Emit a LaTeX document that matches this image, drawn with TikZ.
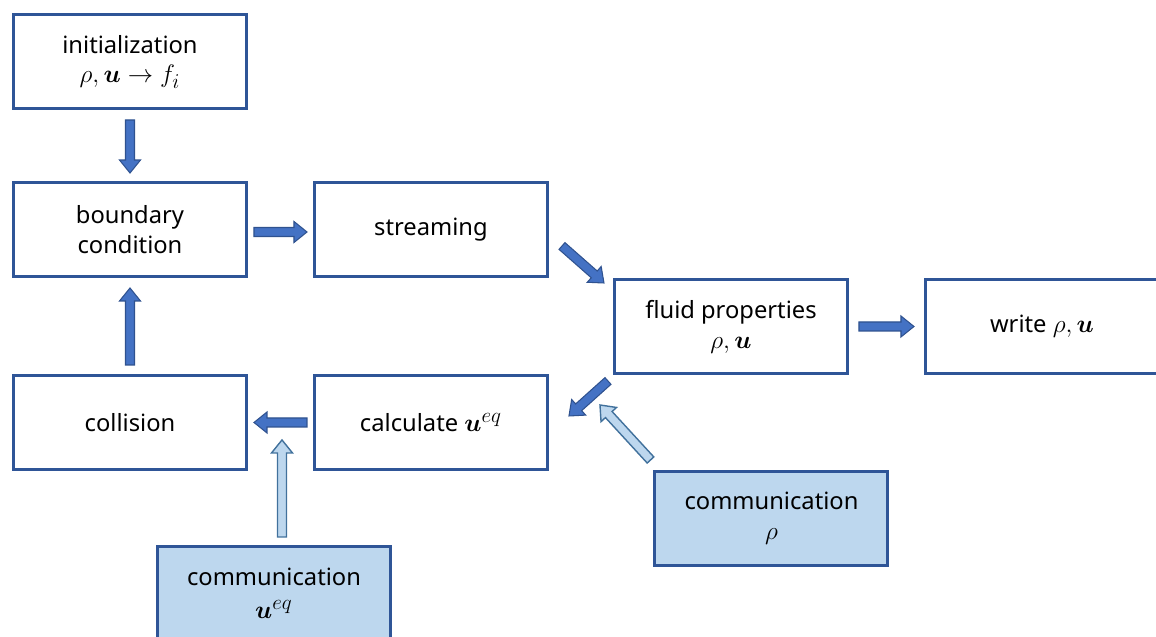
\documentclass[tikz,border=0pt]{standalone}
\usepackage{amsmath}
\usepackage{fontspec}
\setmainfont{Noto Sans}
\DeclareMathSizes{13.5}{15.5}{11.5}{9}
\usetikzlibrary{positioning,calc}
\definecolor{BoxBlue}{HTML}{2F5597}
\definecolor{ArrowBlue}{HTML}{4472C4}
\definecolor{ArrowEdge}{HTML}{2F528F}
\definecolor{CommFill}{HTML}{BDD7EE}
\definecolor{CommEdge}{HTML}{41719C}
\tikzset{
  flow box/.style={draw=BoxBlue,line width=1.7pt,fill=white,align=center,
    minimum width=4.66cm,minimum height=1.88cm,inner sep=3pt,
    font=\fontsize{13.5}{17}\selectfont},
  comm box/.style={flow box,fill=CommFill},
  block arrow/.style={to path={
    ($(\tikztotarget)!0.26cm!(\tikztostart)$) coordinate (tipbase)
    ($(\tikztostart)!0.09cm!90:(\tikztotarget)$)
    -- ($(tipbase)!0.09cm!90:(\tikztotarget)$)
    -- ($(tipbase)!0.21cm!90:(\tikztotarget)$)
    -- (\tikztotarget)
    -- ($(tipbase)!0.21cm!-90:(\tikztotarget)$)
    -- ($(tipbase)!0.09cm!-90:(\tikztotarget)$)
    -- ($(\tikztostart)!0.09cm!-90:(\tikztotarget)$) -- cycle}},
  dark arrow/.style={block arrow,draw=ArrowEdge,fill=ArrowBlue,line width=0.6pt},
  light arrow/.style={block arrow,draw=CommEdge,fill=CommFill,line width=0.8pt}
}

\begin{document}
\begin{tikzpicture}
  \useasboundingbox (-2.6,1.23) rectangle (20.52,-11.49);
  % boxes
  \node[flow box] (init) {initialization\\$\rho,\boldsymbol{u}\rightarrow f_i$};
  \node[flow box,below=1.42cm of init] (boundary) {boundary\\condition};
  \node[flow box,right=1.3cm of boundary] (stream) {streaming};
  \node[flow box,below=1.92cm of boundary] (collision) {collision};
  \node[flow box,right=1.3cm of collision] (calc) {calculate $\boldsymbol{u}^{eq}$};
  \node[flow box,below right=0cm and 1.28cm of stream] (fluid) {fluid properties\\$\rho,\boldsymbol{u}$};
  \node[flow box,right=1.5cm of fluid] (write) {write $\rho,\boldsymbol{u}$};
  \node[comm box,below=1.9cm of fluid,xshift=0.81cm] (commrho) {communication\\$\rho$};
  \node[comm box,below=1.48cm of collision,xshift=2.88cm] (commueq) {communication\\[2pt]$\boldsymbol{u}^{eq}$};
  % arrows
  \draw[dark arrow] ([yshift=-0.2cm]init.south) to ([yshift=0.16cm]boundary.north);
  \draw[dark arrow] ([shift={(0.12cm,-0.05cm)}]boundary.east) to ([shift={(-0.12cm,-0.05cm)}]stream.west);
  \draw[dark arrow] ([shift={(0.26cm,-0.33cm)}]stream.east) to ([shift={(-0.18cm,-0.1cm)}]fluid.north west);
  \draw[dark arrow] ([xshift=0.2cm]fluid.east) to ([xshift=-0.2cm]write.west);
  \draw[dark arrow] ([shift={(-0.1cm,-0.12cm)}]fluid.south west) to ([shift={(0.4cm,0.13cm)}]calc.east);
  \draw[dark arrow] ([xshift=-0.12cm]calc.west) to ([xshift=0.12cm]collision.east);
  \draw[dark arrow] ([yshift=0.18cm]collision.north) to ([yshift=-0.2cm]boundary.south);
  \draw[light arrow] ([shift={(-0.06cm,0.2cm)}]commrho.north west) to ([shift={(1.02cm,0.35cm)}]calc.east);
  \draw[light arrow] ([shift={(0.16cm,0.16cm)}]commueq.north) to ([shift={(-0.62cm,0.62cm)}]calc.south west);
\end{tikzpicture}
\end{document}
